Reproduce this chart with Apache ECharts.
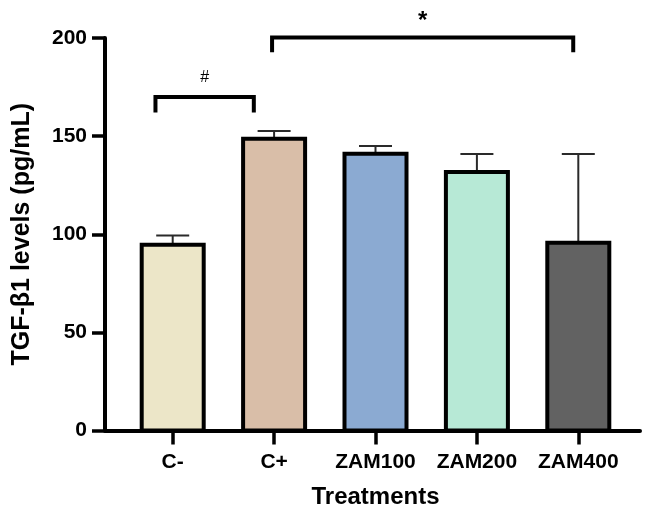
<!DOCTYPE html>
<html><head><meta charset="utf-8">
<script src="https://cdn.jsdelivr.net/npm/echarts@6/dist/echarts.min.js"></script>
<style>html,body{margin:0;padding:0;background:#fff}#c{width:647px;height:508px}</style>
</head><body><div id="c"></div>
<script>
var categories = ['C-', 'C+', 'ZAM100', 'ZAM200', 'ZAM400'];
var means = [95.7, 149.7, 142.1, 132.7, 96.7];
var errors = [3.6, 2.9, 2.9, 8.2, 44.2];
var barColors = ['#ECE6C8', '#D9BEA8', '#8BAAD2', '#B7E9D6', '#626262'];
var yTicks = [0, 50, 100, 150, 200];
var bracketStart = [-0.17, 0.98];
var bracketEnd = [0.80, 3.95];
var bracketTop = [169.9, 200.3];
var bracketBottom = [162.1, 192.7];
var bracketLabels = ['#', '*'];

var FONT = '"Liberation Sans", Arial, sans-serif';
var chart = echarts.init(document.getElementById('c'), null, {renderer: 'canvas'});

var barData = means.map(function (v, i) { return [i, v, i]; });
var errData = means.map(function (v, i) { return [i, v, v + errors[i]]; });
var brData = bracketStart.map(function (s, i) {
  return [s, bracketEnd[i], bracketTop[i], bracketBottom[i], i];
});

chart.setOption({
  animation: false,
  grid: [
    {left: 105, right: 7, top: 38, bottom: 77.5, outerBoundsMode: 'none', containLabel: false},
    {left: 122, right: 18, top: 38, bottom: 77.5, outerBoundsMode: 'none', containLabel: false}
  ],
  xAxis: [
    {gridIndex: 0, type: 'value', min: 0, max: 1,
     axisLine: {show: true, lineStyle: {color: '#000', width: 4}},
     axisTick: {show: false}, axisLabel: {show: false}, splitLine: {show: false}},
    {gridIndex: 1, type: 'category', data: categories,
     axisLine: {show: false},
     axisTick: {show: true, alignWithLabel: true, length: 14, lineStyle: {color: '#000', width: 3.5}},
     axisLabel: {interval: 0, color: '#000', fontFamily: FONT, fontWeight: 'bold', fontSize: 21, margin: 21},
     name: 'Treatments', nameLocation: 'middle', nameGap: 55,
     nameTextStyle: {color: '#000', fontFamily: FONT, fontWeight: 'bold', fontSize: 24},
     splitLine: {show: false}}
  ],
  yAxis: [
    {gridIndex: 0, type: 'value', min: yTicks[0], max: yTicks[yTicks.length - 1], interval: 50,
     axisLine: {show: true, lineStyle: {color: '#000', width: 4}},
     axisTick: {show: true, length: 13, lineStyle: {color: '#000', width: 3.5}},
     axisLabel: {color: '#000', fontFamily: FONT, fontWeight: 'bold', fontSize: 21, margin: 18},
     splitLine: {show: false},
     name: 'TGF-β1 levels (pg/mL)', nameLocation: 'middle', nameGap: 70,
     nameTextStyle: {color: '#000', fontFamily: FONT, fontWeight: 'bold', fontSize: 25}},
    {gridIndex: 1, type: 'value', min: yTicks[0], max: yTicks[yTicks.length - 1], interval: 50,
     show: false, splitLine: {show: false}}
  ],
  series: [
    {type: 'custom', xAxisIndex: 1, yAxisIndex: 1, data: errData, z: 1,
     renderItem: function (params, api) {
       var x = api.value(0);
       var p0 = api.coord([x, api.value(1)]);
       var p1 = api.coord([x, api.value(2)]);
       var half = 16.5;
       var st = {stroke: '#2a2a2a', lineWidth: 2};
       return {type: 'group', children: [
         {type: 'line', shape: {x1: p0[0], y1: p0[1] + 4, x2: p1[0], y2: p1[1]}, style: st},
         {type: 'line', shape: {x1: p1[0] - half, y1: p1[1], x2: p1[0] + half, y2: p1[1]}, style: st}
       ]};
     }},
    {type: 'custom', xAxisIndex: 1, yAxisIndex: 1, data: barData, z: 2,
     renderItem: function (params, api) {
       var i = api.value(0);
       var pt = api.coord([i, api.value(1)]);
       var pb = api.coord([i, 0]);
       var outerW = 66, bw = 4;
       return {type: 'rect',
         shape: {x: pt[0] - outerW / 2 + bw / 2, y: pt[1] + bw / 2,
                 width: outerW - bw, height: pb[1] - pt[1] - bw / 2},
         style: {fill: barColors[api.value(2)], stroke: '#000', lineWidth: bw}};
     }},
    {type: 'custom', xAxisIndex: 1, yAxisIndex: 1, data: brData, z: 3, clip: false,
     renderItem: function (params, api) {
       var c0 = api.coord([0, api.value(2)]);
       var cb = api.coord([0, api.value(3)]);
       var w = api.size([1, 0])[0];
       var xa = c0[0] + api.value(0) * w;
       var xb = c0[0] + api.value(1) * w;
       var yt = c0[1], yb = cb[1];
       var lbl = bracketLabels[api.value(4)];
       return {type: 'group', children: [
         {type: 'polyline', shape: {points: [[xa, yb], [xa, yt], [xb, yt], [xb, yb]]},
          style: {stroke: '#000', lineWidth: 4, fill: null}},
         {type: 'text', x: (xa + xb) / 2, y: yt - (lbl === '#' ? 19 : 16),
          style: {text: lbl, fill: '#000', fontFamily: FONT,
                  fontWeight: lbl === '*' ? 'bold' : 'normal',
                  fontSize: lbl === '*' ? 24 : 16, align: 'center', verticalAlign: 'middle'}}
       ]};
     }}
  ]
});
</script></body></html>
